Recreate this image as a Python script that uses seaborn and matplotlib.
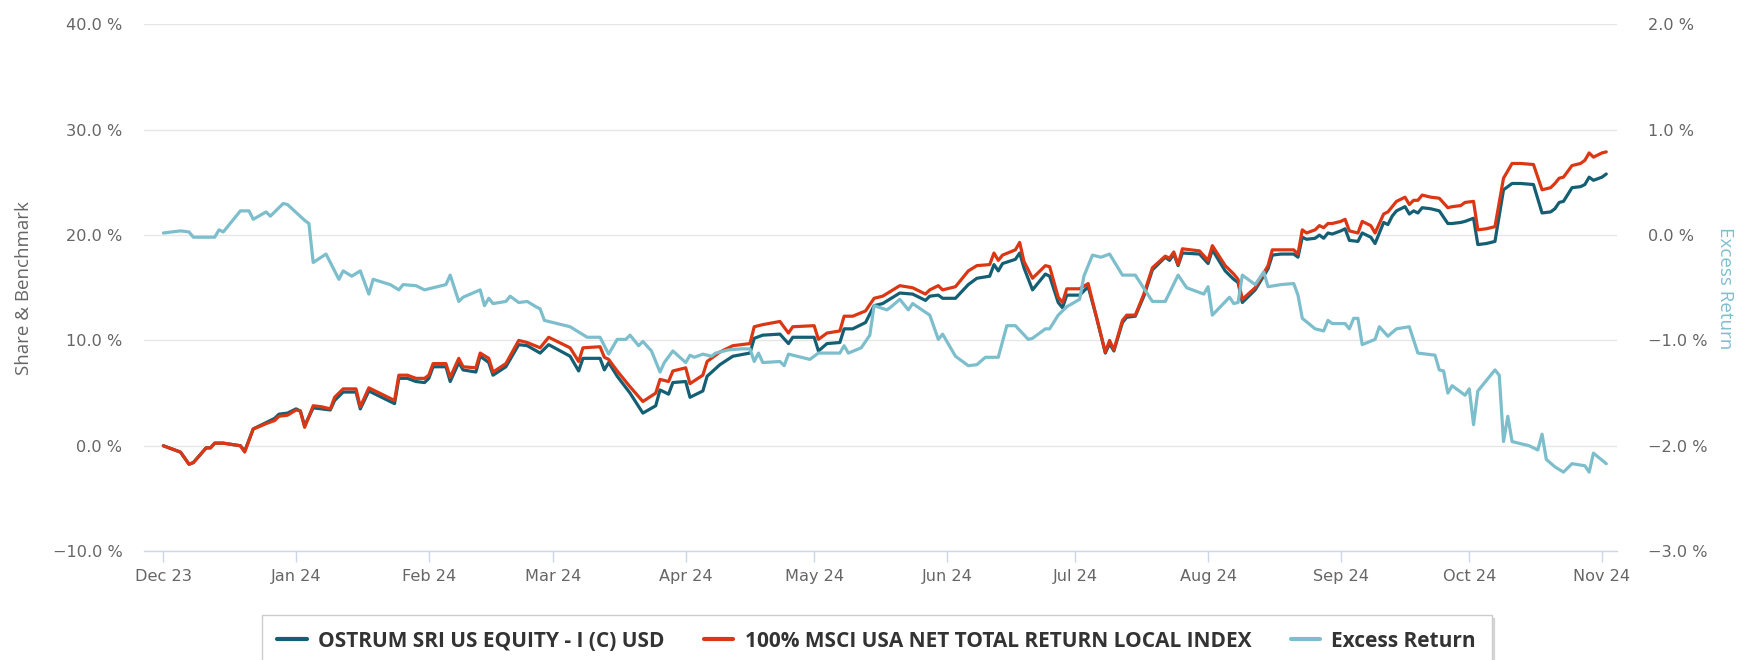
import matplotlib
matplotlib.use("Agg")
import matplotlib.pyplot as plt
import matplotlib.dates as mdates
from matplotlib.ticker import FuncFormatter, FixedLocator
import pandas as pd
import seaborn as sns

# days since 1 Dec 2023
perf_days = [0, 4, 6, 7, 10, 11, 12, 14, 18, 19,
             21, 22, 24, 26, 27, 29, 31, 32, 33, 35,
             37, 39, 40, 42, 45, 46, 48, 50, 54, 55,
             57, 59, 61, 62, 63, 66, 67, 69, 70, 73,
             74, 76, 77, 80, 83, 85, 88, 90, 95, 97,
             98, 102, 103, 104, 106, 109, 112, 115, 116, 118,
             119, 122, 123, 126, 127, 130, 133, 137, 138, 140,
             144, 146, 147, 152, 153, 155, 158, 159, 161, 164,
             166, 168, 172, 175, 178, 179, 181, 182, 185, 188,
             190, 193, 194, 195, 196, 199, 200, 201, 203, 206,
             207, 209, 210, 211, 214, 216, 218, 220, 221, 222,
             224, 225, 227, 229, 231, 234, 235, 236, 237, 238,
             242, 244, 245, 248, 250, 251, 252, 255, 258, 259,
             261, 264, 265, 266, 267, 269, 270, 271, 272, 273,
             275, 276, 277, 279, 280, 282, 283, 285, 286, 287,
             288, 290, 291, 292, 293, 294, 296, 298, 300, 301,
             303, 304, 306, 307, 309, 311, 313, 315, 317, 320,
             322, 324, 325, 326, 327, 329, 331, 332, 333, 334,
             336, 337]

fund = [0.0, -0.6, -1.75, -1.6, -0.2, -0.2, 0.25, 0.25, 0.0, -0.5,
        1.6, 1.8, 2.2, 2.6, 3.0, 3.1, 3.5, 3.3, 1.9, 3.6,
        3.5, 3.4, 4.3, 5.1, 5.1, 3.5, 5.2, 4.8, 4.0, 6.4,
        6.4, 6.1, 6.0, 6.4, 7.5, 7.5, 6.1, 7.9, 7.2, 7.0,
        8.5, 7.9, 6.7, 7.5, 9.6, 9.5, 8.8, 9.6, 8.5, 7.1,
        8.3, 8.3, 7.2, 7.9, 6.6, 5.0, 3.1, 3.8, 5.3, 4.9,
        6.0, 6.1, 4.6, 5.2, 6.6, 7.7, 8.5, 8.8, 10.2, 10.5,
        10.6, 9.7, 10.3, 10.3, 9.0, 9.7, 9.8, 11.1, 11.1, 11.7,
        13.3, 13.5, 14.5, 14.4, 13.8, 14.2, 14.3, 14.0, 14.0, 15.3,
        15.9, 16.1, 17.2, 16.6, 17.3, 17.7, 18.3, 16.9, 14.8, 16.3,
        16.1, 13.6, 13.1, 14.3, 14.3, 15.1, 12.1, 8.8, 9.7, 9.0,
        11.7, 12.2, 12.3, 14.2, 16.7, 17.9, 17.6, 18.2, 17.1, 18.3,
        18.2, 17.3, 18.6, 16.6, 15.8, 15.5, 13.6, 14.8, 16.8, 18.1,
        18.2, 18.2, 17.9, 19.8, 19.6, 19.7, 20.0, 19.7, 20.2, 20.1,
        20.4, 20.6, 19.5, 19.4, 20.2, 19.8, 19.2, 21.2, 21.0, 21.8,
        22.3, 22.7, 22.0, 22.3, 22.1, 22.6, 22.5, 22.3, 21.1, 21.1,
        21.2, 21.3, 21.6, 19.1, 19.2, 19.4, 24.3, 24.9, 24.9, 24.8,
        22.1, 22.2, 22.5, 23.1, 23.2, 24.5, 24.6, 24.8, 25.5, 25.2,
        25.5, 25.8]

bench = [0.0, -0.6, -1.75, -1.6, -0.2, -0.2, 0.25, 0.25, 0.0, -0.6,
         1.6, 1.75, 2.1, 2.4, 2.8, 2.9, 3.4, 3.3, 1.75, 3.8,
         3.7, 3.5, 4.6, 5.4, 5.4, 3.7, 5.5, 5.1, 4.3, 6.7,
         6.7, 6.4, 6.4, 6.7, 7.8, 7.8, 6.5, 8.3, 7.5, 7.4,
         8.8, 8.3, 7.0, 7.8, 10.0, 9.8, 9.3, 10.3, 9.3, 8.0,
         9.3, 9.4, 8.4, 8.2, 7.1, 5.6, 4.2, 5.0, 6.3, 6.1,
         7.1, 7.4, 5.9, 6.7, 8.0, 8.9, 9.5, 9.7, 11.3, 11.5,
         11.8, 10.7, 11.3, 11.4, 10.1, 10.7, 10.9, 12.3, 12.3, 12.8,
         14.0, 14.2, 15.2, 15.0, 14.4, 14.8, 15.2, 14.8, 15.1, 16.6,
         17.1, 17.2, 18.3, 17.6, 18.1, 18.6, 19.3, 17.5, 15.9, 17.1,
         17.0, 14.1, 13.6, 14.9, 14.9, 15.4, 12.1, 8.9, 10.0, 9.1,
         11.9, 12.4, 12.4, 14.4, 16.9, 18.0, 17.8, 18.4, 17.2, 18.7,
         18.5, 17.6, 19.0, 17.1, 16.3, 15.8, 13.9, 15.0, 17.1, 18.6,
         18.6, 18.6, 18.2, 20.5, 20.2, 20.5, 20.9, 20.7, 21.1, 21.1,
         21.3, 21.5, 20.4, 20.2, 21.3, 20.9, 20.2, 22.0, 22.2, 22.7,
         23.2, 23.6, 22.9, 23.3, 23.3, 23.8, 23.6, 23.5, 22.6, 22.7,
         22.8, 23.1, 23.2, 20.5, 20.6, 20.8, 25.4, 26.8, 26.8, 26.7,
         24.3, 24.5, 24.9, 25.4, 25.5, 26.6, 26.8, 27.1, 27.8, 27.4,
         27.8, 27.9]

excess_days = [0, 4, 6, 7, 10, 12, 13, 14, 18, 20,
               21, 24, 25, 28, 29, 33, 34, 35, 38, 41,
               42, 44, 46, 48, 49, 53, 55, 56, 59, 61,
               63, 66, 67, 69, 70, 74, 75, 76, 77, 80,
               81, 83, 85, 87, 88, 89, 91, 95, 97, 99,
               102, 104, 106, 108, 109, 111, 112, 114, 116, 117,
               119, 122, 123, 124, 126, 128, 129, 132, 135, 137,
               138, 139, 140, 144, 145, 146, 151, 153, 158, 159,
               160, 163, 165, 166, 169, 170, 172, 174, 175, 179,
               181, 182, 185, 188, 190, 192, 195, 197, 199, 202,
               203, 206, 207, 209, 211, 214, 215, 217, 219, 221,
               224, 227, 231, 234, 237, 239, 243, 244, 245, 249,
               250, 251, 252, 255, 257, 258, 261, 264, 265, 266,
               269, 271, 272, 273, 276, 277, 278, 279, 280, 283,
               284, 286, 288, 291, 293, 297, 298, 299, 300, 301,
               304, 305, 306, 307, 311, 312, 313, 314, 315, 319,
               321, 322, 323, 325, 327, 329, 332, 333, 334, 337]

excess = [0.02, 0.04, 0.03, -0.02, -0.02, -0.02, 0.05, 0.03, 0.23, 0.23,
          0.15, 0.22, 0.18, 0.30, 0.29, 0.14, 0.11, -0.26, -0.18, -0.42,
          -0.34, -0.39, -0.34, -0.56, -0.42, -0.47, -0.52, -0.47, -0.48, -0.52,
          -0.50, -0.47, -0.38, -0.63, -0.59, -0.52, -0.67, -0.60, -0.65, -0.63,
          -0.58, -0.64, -0.63, -0.68, -0.70, -0.81, -0.83, -0.87, -0.92, -0.97,
          -0.97, -1.13, -0.99, -0.99, -0.95, -1.05, -1.01, -1.10, -1.30, -1.21,
          -1.10, -1.21, -1.14, -1.16, -1.13, -1.15, -1.12, -1.09, -1.08, -1.08,
          -1.20, -1.12, -1.21, -1.20, -1.24, -1.13, -1.18, -1.12, -1.12, -1.05,
          -1.12, -1.07, -0.95, -0.67, -0.71, -0.68, -0.61, -0.71, -0.65, -0.76,
          -0.99, -0.94, -1.15, -1.24, -1.23, -1.16, -1.16, -0.86, -0.86, -0.99,
          -0.98, -0.89, -0.89, -0.76, -0.68, -0.61, -0.39, -0.19, -0.21, -0.18,
          -0.38, -0.38, -0.63, -0.63, -0.38, -0.50, -0.56, -0.49, -0.76, -0.59,
          -0.65, -0.64, -0.38, -0.47, -0.35, -0.49, -0.47, -0.46, -0.57, -0.79,
          -0.89, -0.91, -0.81, -0.84, -0.84, -0.89, -0.79, -0.79, -1.04, -0.99,
          -0.87, -0.96, -0.89, -0.87, -1.12, -1.14, -1.28, -1.29, -1.50, -1.43,
          -1.52, -1.46, -1.80, -1.48, -1.28, -1.33, -1.96, -1.72, -1.96, -2.00,
          -2.04, -1.89, -2.13, -2.20, -2.25, -2.17, -2.19, -2.25, -2.07, -2.17]

labels = ["OSTRUM SRI US EQUITY - I (C) USD",
          "100% MSCI USA NET TOTAL RETURN LOCAL INDEX",
          "Excess Return"]
colors = ["#145f73", "#dc3714", "#7dbecd"]

start = pd.Timestamp("2023-12-01")
perf = pd.DataFrame({"date": start + pd.to_timedelta(perf_days, unit="D"),
                     "fund": fund, "bench": bench})
exc = pd.DataFrame({"date": start + pd.to_timedelta(excess_days, unit="D"),
                    "excess": excess})

sns.set_theme(style="white")
plt.rcParams["font.family"] = ["Open Sans", "DejaVu Sans"]

grey = "#666666"
axis_col = "#ccd6eb"
tick_font = {"family": ["DejaVu Sans"], "size": 11.6}

fig = plt.figure(figsize=(17.43, 6.6), dpi=100)
ax = fig.add_axes([0.0829, 0.165, 0.8448, 0.798])
ax2 = ax.twinx()

sns.lineplot(data=perf, x="date", y="fund", ax=ax, color=colors[0], lw=2.3, label=labels[0], legend=False)
sns.lineplot(data=perf, x="date", y="bench", ax=ax, color=colors[1], lw=2.3, label=labels[1], legend=False)
sns.lineplot(data=exc, x="date", y="excess", ax=ax2, color=colors[2], lw=2.3, label=labels[2], legend=False)

pct = FuncFormatter(lambda v, p: f"{v:.1f} %".replace("-", "\u2212"))

ax.set_xlim(start - pd.Timedelta(days=4.4), start + pd.Timedelta(days=339.5))
ax.set_ylim(-10, 40)
ax2.set_ylim(-3, 2)
ax.yaxis.set_major_locator(FixedLocator([-10, 0, 10, 20, 30, 40]))
ax2.yaxis.set_major_locator(FixedLocator([-3, -2, -1, 0, 1, 2]))
ax.yaxis.set_major_formatter(pct)
ax2.yaxis.set_major_formatter(pct)
ax.xaxis.set_major_locator(mdates.MonthLocator())
ax.xaxis.set_major_formatter(mdates.DateFormatter("%b %y"))

ax.set_xlabel("")
ax.set_ylabel("")
ax2.set_ylabel("")

ax.grid(axis="y", color="#e6e6e6", lw=1)
ax.grid(axis="x", visible=False)
ax2.grid(False)

for a in (ax, ax2):
    for s in ("left", "right", "top"):
        a.spines[s].set_visible(False)
ax2.spines["bottom"].set_visible(False)
ax.spines["bottom"].set_color(axis_col)
ax.spines["bottom"].set_linewidth(1)

ax.tick_params(axis="y", length=0, pad=16, labelcolor=grey)
ax2.tick_params(axis="y", length=0, pad=22, labelcolor=grey)
ax.tick_params(axis="x", bottom=True, direction="out", length=8, width=1, color=axis_col,
               pad=5, labelcolor=grey)
for lab in ax.get_xticklabels() + ax.get_yticklabels() + ax2.get_yticklabels():
    lab.set_fontfamily(tick_font["family"])
    lab.set_fontsize(tick_font["size"])

fig.text(24 / 1743, 1 - 288 / 660, "Share & Benchmark", rotation=90,
         ha="center", va="center", fontsize=13.5, color=grey)
fig.text(1725 / 1743, 1 - 288 / 660, "Excess Return", rotation=270,
         ha="center", va="center", fontsize=13.5, color=colors[2])

handles = ax.get_lines()[:2] + ax2.get_lines()[:1]
leg = fig.legend(handles, labels, loc="upper center", bbox_to_anchor=(0.503, 0.084),
                 ncol=3, frameon=True, fancybox=False,
                 shadow={"color": "#000000", "alpha": 0.12},
                 prop={"weight": "bold", "size": 15},
                 handlelength=1.4, handletextpad=0.55, columnspacing=1.9, borderpad=0.75)
leg.get_frame().set_edgecolor("#cccccc")
leg.get_frame().set_linewidth(1)
for t in leg.get_texts():
    t.set_color("#333333")
for h in leg.legend_handles:
    h.set_linewidth(3)

fig.savefig("out.png", dpi=100)
